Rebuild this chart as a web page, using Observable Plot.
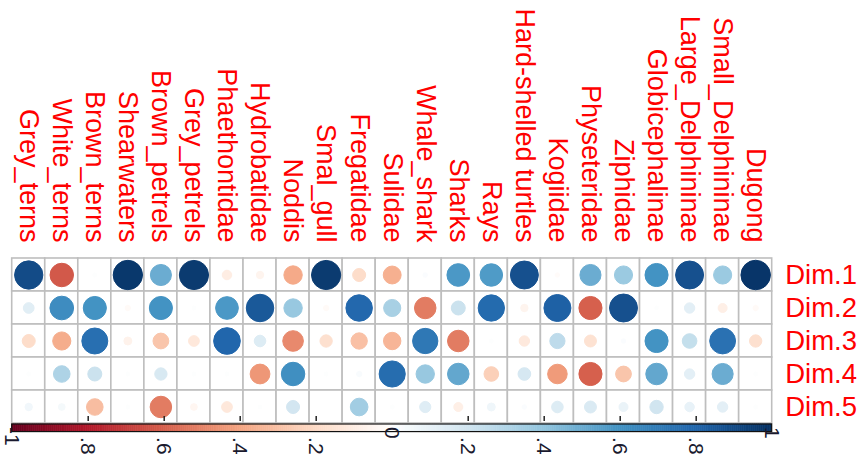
<!DOCTYPE html>
<html><head><meta charset="utf-8">
<script src="https://cdn.jsdelivr.net/npm/d3@7"></script>
<script src="https://cdn.jsdelivr.net/npm/@observablehq/plot@0.6"></script>
<style>html,body{margin:0;padding:0;background:#fff;} svg{display:block}</style>
</head><body><div id="chart"></div>
<script>
const columns = ["Grey_terns","White_terns","Brown_terns","Shearwaters","Brown_petrels","Grey_petrels","Phaethontidae","Hydrobatidae","Noddis","Smal_gull","Fregatidae","Sulidae","Whale_shark","Sharks","Rays","Hard-shelled turtles","Kogiidae","Physeteridae","Ziphidae","Globicephalinae","Large_Delphininae","Small_Delphininae","Dugong"];
const rows = ["Dim.1","Dim.2","Dim.3","Dim.4","Dim.5"];
const dim1 = [0.90,-0.62,0.01,0.97,0.50,0.96,-0.10,-0.06,-0.38,0.96,-0.19,-0.36,0.02,0.58,0.57,0.88,-0.02,0.50,0.37,0.60,0.88,0.37,0.98];
const dim2 = [0.13,0.63,0.60,-0.03,0.60,0.01,0.58,0.85,0.38,-0.03,0.79,0.33,-0.52,0.22,0.78,-0.06,0.82,-0.60,0.88,0.01,0.12,-0.09,-0.03];
const dim3 = [-0.19,-0.37,0.76,-0.07,-0.28,-0.13,0.80,0.15,-0.48,-0.17,-0.30,-0.34,0.72,-0.52,0.01,-0.12,0.26,-0.16,0.02,0.60,0.24,0.75,-0.17];
const dim4 = [0.01,0.31,0.22,0.01,0.17,0.01,0.01,-0.44,0.62,0.01,0.03,0.77,0.38,0.52,-0.24,0.18,-0.43,-0.60,-0.28,0.52,0.12,0.50,0.01];
const dim5 = [0.06,0.05,-0.31,0.01,-0.52,-0.05,-0.13,0.01,0.19,0.00,0.35,0.01,0.14,-0.09,0.07,0.02,0.15,0.16,0.09,0.20,0.10,0.12,0.01];
const colorStops = [-1,-0.8,-0.6,-0.4,-0.2,0,0.2,0.4,0.6,0.8,1];
const colorRange = ["#67001F","#B2182B","#D6604D","#F4A582","#FDDBC7","#FFFFFF","#D1E5F0","#92C5DE","#4393C3","#2166AC","#053061"];
const tickValues = [-1,-0.8,-0.6,-0.4,-0.2,0,0.2,0.4,0.6,0.8,1];
const tickLabels = ["-1",".8",".6",".4",".2","0",".2",".4",".6",".8","1"];

const values = [dim1, dim2, dim3, dim4, dim5];
const cells = [];
rows.forEach((r, ri) => columns.forEach((c, ci) => cells.push({row: r, col: c, ri, ci, value: values[ri][ci]})));
const nCol = columns.length, nRow = rows.length;
const toBar = v => (v + 1) / 2 * nCol;
const step = 0.005;
const ramp = d3.range(-1, 1, step);
const ticks = tickValues.map((v, i) => ({v, label: tickLabels[i]}));
const innerTicks = ticks.filter(d => d.v !== -1 && d.v !== 0 && d.v !== 1);
const dotLabels = ticks.filter(d => d.label.startsWith("."));
const plainLabels = ticks.filter(d => !d.label.startsWith("."));

const chart = Plot.plot({
  width: 859, height: 457,
  marginLeft: 11.7, marginRight: 87.3, marginTop: 258, marginBottom: 34,
  x: {domain: [0, nCol], axis: null},
  y: {domain: [0, nRow], range: [258, 423], axis: null},
  r: {type: "sqrt", domain: [0, 1], range: [0, 14.9]},
  color: {type: "linear", domain: colorStops, range: colorRange},
  style: {fontFamily: "'Liberation Sans', Arial, sans-serif", background: "white", overflow: "visible"},
  marks: [
    Plot.rect(cells, {x1: "ci", x2: d => d.ci + 1, y1: "ri", y2: d => d.ri + 1, fill: "white", stroke: "#bebebe", strokeWidth: 1.6}),
    Plot.dot(cells, {x: d => d.ci + 0.5, y: d => d.ri + 0.5, r: d => Math.abs(d.value), fill: "value", stroke: "value", strokeWidth: 1}),
    Plot.text(columns, {x: (d, i) => i + 0.5, y: () => 0, dy: -16, rotate: 90, textAnchor: "end", lineAnchor: "middle", fontSize: 27, fill: "#ff0000"}),
    Plot.text(rows, {x: () => nCol, y: (d, i) => i + 0.5, dx: 13, textAnchor: "start", lineAnchor: "middle", fontSize: 27.5, fill: "#ff0000"}),
    Plot.ruleX(innerTicks, {x: d => toBar(d.v), y1: () => 4.79, y2: () => 4.94, stroke: "#222", strokeWidth: 1.5}),
    Plot.rect(ramp, {x1: v => toBar(v), x2: v => toBar(v + step), y1: () => 5.03, y2: () => 5.26, fill: v => v + step / 2, stroke: v => v + step / 2, strokeWidth: 0.6}),
    Plot.rect([0], {x1: () => 0, x2: () => nCol, y1: () => 5.03, y2: () => 5.26, fill: "none", stroke: "#111", strokeWidth: 1.2}),
    Plot.text(dotLabels, {x: d => toBar(d.v), y: () => 5.26, dy: 5, text: "label", rotate: 90, textAnchor: "start", lineAnchor: "middle", fontSize: 21, fill: "#1a1a2e"}),
    Plot.text(plainLabels, {x: d => toBar(d.v), y: () => 5.26, dy: -5, text: "label", rotate: 90, textAnchor: "start", lineAnchor: "middle", fontSize: 21, fill: "#1a1a2e"})
  ]
});
document.getElementById("chart").appendChild(chart);
</script>
</body></html>
